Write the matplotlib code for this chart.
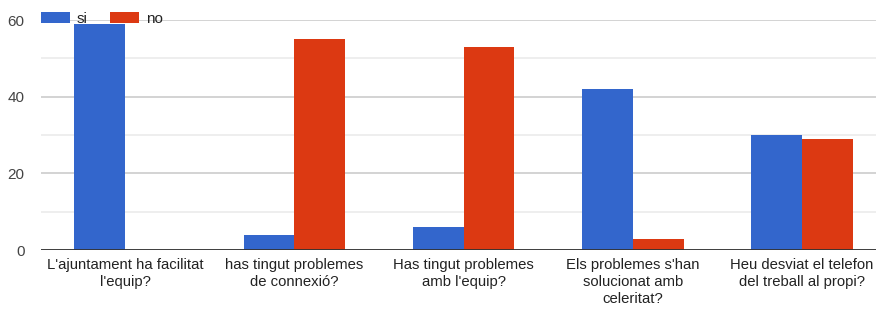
import matplotlib.pyplot as plt
import numpy as np

plt.rcParams['font.family'] = ['Liberation Sans', 'DejaVu Sans']

categories = [
    "L'ajuntament ha facilitat\nl'equip?",
    "has tingut problemes\nde connexió?",
    "Has tingut problemes\namb l'equip?",
    "Els problemes s'han\nsolucionat amb\nceleritat?",
    "Heu desviat el telefon\ndel treball al propi?",
]
si = [59, 4, 6, 42, 30]
no = [0, 55, 53, 3, 29]
series_names = ['si', 'no']

blue = '#3366CC'
red = '#DC3912'

W, H = 876, 310
fig = plt.figure(figsize=(W / 100, H / 100), dpi=100)
ax = fig.add_axes([40.5 / W, (H - 250) / H, (W - 40.5) / W, 230 / H])

x = np.arange(len(categories))
w = 0.30
ax.bar(x - w / 2, si, width=w, color=blue, label=series_names[0], zorder=3)
ax.bar(x + w / 2, no, width=w, color=red, label=series_names[1], zorder=3)

ax.set_xlim(-0.5, 4.437)
ax.set_ylim(0, 60)
ax.set_yticks([0, 20, 40, 60])
ax.set_yticks([10, 30, 50], minor=True)
ax.grid(axis='y', which='major', color='#cccccc', linewidth=1.2, zorder=0)
ax.grid(axis='y', which='minor', color='#ebebeb', linewidth=1.2, zorder=0)
ax.axhline(0, color='#333333', linewidth=1.3, zorder=4)

for s in ax.spines.values():
    s.set_visible(False)

ax.tick_params(axis='y', which='both', length=0, pad=11.5, labelsize=11, labelcolor='#444444')
ax.tick_params(axis='x', length=0, pad=6, labelsize=10.7, labelcolor='#222222')
ax.set_xticks(x)
ax.set_xticklabels(categories, linespacing=1.25)

leg = ax.legend(loc='lower left', bbox_to_anchor=(0.0, 0.975), ncol=2, frameon=False,
                fontsize=11, handlelength=1.9, handleheight=0.8, handletextpad=0.45,
                columnspacing=1.5, borderaxespad=0, borderpad=0)
for t in leg.get_texts():
    t.set_color('#222222')

fig.savefig('out.png', dpi=100)
